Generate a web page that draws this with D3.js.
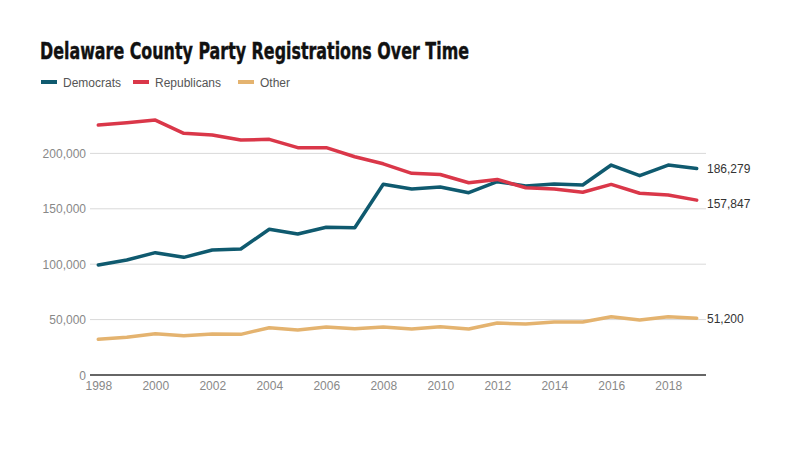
<!DOCTYPE html>
<html>
<head>
<meta charset="utf-8">
<script src="https://cdn.jsdelivr.net/npm/d3@7"></script>
<style>
  body { margin: 0; background: #fff; }
  svg text { font-family: "Liberation Sans", Arial, sans-serif; }
</style>
</head>
<body>
<div class="chart"></div>
<script>
const years = d3.range(1998, 2020);
const democrats = [99300, 103800, 110400, 106200, 112800, 113700, 131500, 127300, 133300, 132900,
  172100, 167900, 169700, 164500, 174500, 170600, 172400, 171500, 189500, 179900, 189500, 186279];
const republicans = [225600, 227700, 230100, 218100, 216600, 212100, 212700, 205200, 205200, 197000,
  190600, 182000, 181000, 173500, 176500, 169000, 167900, 164900, 172000, 164000, 162500, 157847];
const other = [32200, 34000, 37300, 35500, 37000, 36700, 42700, 40600, 43300, 41800,
  43300, 41500, 43600, 41500, 46900, 46000, 47800, 47800, 52600, 49600, 52600, 51200];
const seriesNames = ['Democrats', 'Republicans', 'Other'];
const colors = ['#0f5a6f', '#da3749', '#e4b36f'];
const yTicks = [0, 50000, 100000, 150000, 200000];
const xTicks = [1998, 2000, 2002, 2004, 2006, 2008, 2010, 2012, 2014, 2016, 2018];

const series = [democrats, republicans, other];
// small nudge so end labels don't crowd each other
const labelNudge = [0, 3, 0];

const svg = d3.select('.chart').append('svg')
  .attr('width', 800)
  .attr('height', 450);

svg.append('text')
  .text('Delaware County Party Registrations Over Time')
  .attr('x', 40)
  .attr('y', 59)
  .style('font-family', '"Liberation Sans Narrow", "DejaVu Sans Condensed", sans-serif')
  .style('font-weight', 'bold')
  .attr('font-size', '23px')
  .attr('textLength', 429)
  .attr('lengthAdjust', 'spacingAndGlyphs')
  .attr('stroke', '#111')
  .attr('stroke-width', 0.4)
  .attr('fill', '#111');

// legend
const legendX = [41, 133, 238];
const legend = svg.append('g').selectAll('g')
  .data(seriesNames)
  .enter()
  .append('g')
  .attr('transform', (d, i) => `translate(${legendX[i]}, 82)`);
legend.append('line')
  .attr('x1', 0).attr('x2', 16)
  .attr('stroke', (d, i) => colors[i])
  .attr('stroke-width', 4);
legend.append('text')
  .text(d => d)
  .attr('x', 22)
  .attr('y', 4.5)
  .attr('font-size', '12px')
  .attr('fill', '#555');

const margin = { left: 90, right: 706, top: 110, bottom: 375 };

const x = d3.scaleLinear()
  .domain([1998, 2019])
  .range([98.3, 696.7]);

const y = d3.scaleLinear()
  .domain([0, 200000])
  .range([375, 153.4]);

// gridlines
svg.append('g')
  .selectAll('line')
  .data(yTicks.filter(d => d > 0))
  .enter()
  .append('line')
  .attr('x1', margin.left)
  .attr('x2', margin.right)
  .attr('y1', d => y(d))
  .attr('y2', d => y(d))
  .attr('stroke', '#d9d9d9')
  .attr('stroke-width', 1);

// y labels
svg.append('g')
  .selectAll('text')
  .data(yTicks)
  .enter()
  .append('text')
  .text(d => d3.format(',')(d))
  .attr('x', 86)
  .attr('y', d => y(d) + 4.5)
  .attr('text-anchor', 'end')
  .attr('font-size', '12px')
  .attr('fill', '#888');

// x axis
const xAxis = svg.append('g')
  .attr('transform', `translate(0, ${margin.bottom})`)
  .call(d3.axisBottom(x).tickValues(xTicks).tickFormat(d3.format('d')).tickSize(0).tickPadding(6));
xAxis.select('.domain').remove();
xAxis.append('line')
  .attr('x1', margin.left)
  .attr('x2', margin.right)
  .attr('stroke', '#333')
  .attr('stroke-width', 1.5);
xAxis.selectAll('text')
  .attr('font-size', '12px')
  .attr('fill', '#888')
  .style('font-family', '"Liberation Sans", Arial, sans-serif');

const line = d3.line()
  .x((d, i) => x(years[i]))
  .y(d => y(d));

svg.append('g')
  .selectAll('path')
  .data(series)
  .enter()
  .append('path')
  .attr('d', d => line(d))
  .attr('fill', 'none')
  .attr('stroke', (d, i) => colors[i])
  .attr('stroke-width', 3.5)
  .attr('stroke-linejoin', 'round')
  .attr('stroke-linecap', 'round');

// end labels
svg.append('g')
  .selectAll('text')
  .data(series)
  .enter()
  .append('text')
  .text(d => d3.format(',')(d[d.length - 1]))
  .attr('x', 707)
  .attr('y', (d, i) => y(d[d.length - 1]) + 4.5 + labelNudge[i])
  .attr('font-size', '12px')
  .attr('fill', '#333');
</script>
</body>
</html>
